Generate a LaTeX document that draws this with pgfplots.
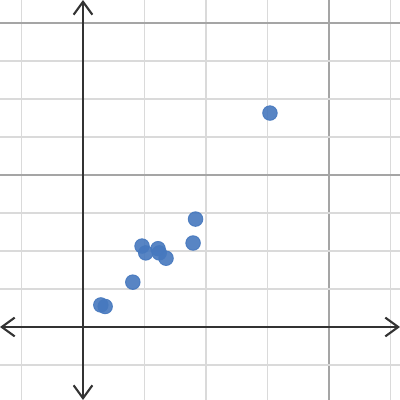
\documentclass[border=0pt]{standalone}
\usepackage{pgfplots}
\pgfplotsset{compat=1.18}
\usetikzlibrary{arrows.meta}
\definecolor{dotblue}{RGB}{70,120,190}
\definecolor{minorgrid}{RGB}{218,218,218}
\definecolor{majorgrid}{RGB}{165,165,165}
\definecolor{axisgray}{RGB}{51,51,51}
\begin{document}
\begin{tikzpicture}
\begin{axis}[
  scale only axis, width=6cm, height=6cm,
  xmin=-1.3496, xmax=5.1545, ymin=-1.921, ymax=8.605,
  axis lines=center,
  axis line style={axisgray, line width=0.9pt, {Straight Barb[length=5.5pt,width=8pt]}-{Straight Barb[length=5.5pt,width=8pt]}},
  xtick={0,4}, minor xtick={-1,1,2,3,5},
  ytick={0,4,8}, minor ytick={-1,1,2,3,5,6,7},
  xticklabels={}, yticklabels={},
  major tick length=0pt, minor tick length=0pt,
  grid=both,
  major grid style={majorgrid, line width=0.65pt},
  minor grid style={minorgrid, line width=0.65pt},
  clip=false,
]
\addplot[only marks, mark=*, mark size=3.1pt, color=dotblue,
  mark options={draw=dotblue, fill=dotblue, opacity=0.9}]
  coordinates {
  (3.04,5.63) (1.83,2.84) (1.79,2.21) (0.96,2.13) (1.02,1.95)
  (1.22,2.06) (1.24,1.95) (1.35,1.81) (0.81,1.18) (0.29,0.58) (0.36,0.54)
  };
\end{axis}
\pgfresetboundingbox
\useasboundingbox (current axis.south west) rectangle (current axis.north east);
\end{tikzpicture}
\end{document}
